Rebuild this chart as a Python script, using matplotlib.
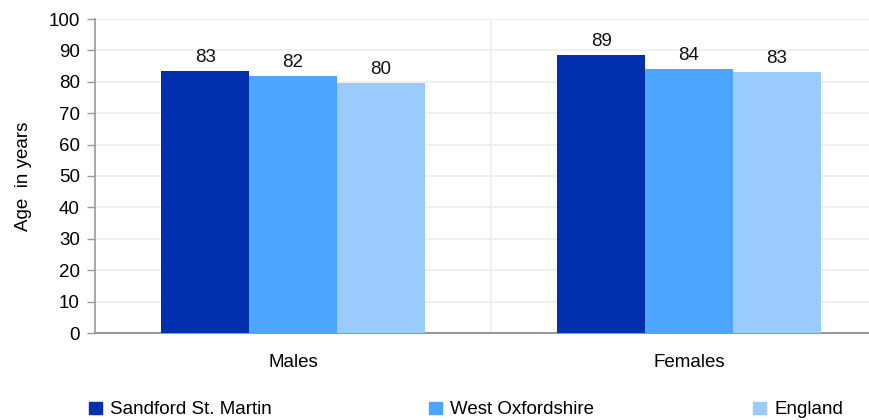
import numpy as np
import matplotlib.pyplot as plt
from matplotlib.patches import Patch

plt.rcParams["font.family"] = ["Liberation Sans", "DejaVu Sans"]

# Lebenserwartung nach Geschlecht
categories = ["Males", "Females"]
series_names = ["Sandford St. Martin", "West Oxfordshire", "England"]
values = {
    "Sandford St. Martin": [83.3, 88.5],
    "West Oxfordshire": [81.8, 84.0],
    "England": [79.6, 83.0],
}
labels = {
    "Sandford St. Martin": ["83", "89"],
    "West Oxfordshire": ["82", "84"],
    "England": ["80", "83"],
}
colors = ["#0030ad", "#4ca6ff", "#99cbff"]
FS = 13.5

fig = plt.figure(figsize=(8.7, 4.2), dpi=100)
# axes run past the right edge like in the original export
ax = fig.add_axes([95 / 870, (420 - 333) / 420, 792 / 870, 314 / 420])

x = np.arange(len(categories))
width = 0.222
for i, (name, col) in enumerate(zip(series_names, colors)):
    pos = x + (i - 1) * width
    bars = ax.bar(pos, values[name], width=width, color=col, zorder=3)
    for b, lab in zip(bars, labels[name]):
        ax.annotate(lab, (b.get_x() + b.get_width() / 2, b.get_height()),
                    xytext=(0, 4), textcoords="offset points",
                    ha="center", va="bottom", fontsize=FS, color="#111111")

ax.set_xlim(-0.5, 1.5)
ax.set_ylim(0, 100)
ax.set_yticks(np.arange(0, 101, 10))
ax.set_xticks(x)
ax.set_xticklabels(categories, fontsize=FS)
ax.set_xticks([0.5], minor=True)
ax.tick_params(axis="x", which="both", length=0, pad=15)
ax.tick_params(axis="y", length=6, width=1, color="#999999", labelsize=FS, pad=5)

ax.grid(True, axis="y", color="#efefef", linewidth=1.3, zorder=0)
ax.grid(True, axis="x", which="minor", color="#efefef", linewidth=1.3, zorder=0)

for s in ["top", "right"]:
    ax.spines[s].set_visible(False)
ax.spines["left"].set_color("#999999")
ax.spines["bottom"].set_color("#999999")
ax.spines["left"].set_linewidth(1.2)
ax.spines["bottom"].set_linewidth(1.5)

ax.set_ylabel("Age  in years", fontsize=FS, labelpad=12)

# Legende: drei Einträge weit auseinander
for name, col, xpos in zip(series_names, colors, [82, 422, 746]):
    fig.legend(handles=[Patch(color=col, label=name)], loc="center left",
               bbox_to_anchor=(xpos / 870, 10 / 420), frameon=False,
               fontsize=FS, handlelength=0.65, handleheight=0.65,
               handletextpad=0.45, borderaxespad=0)

fig.savefig("out.png", dpi=100)
